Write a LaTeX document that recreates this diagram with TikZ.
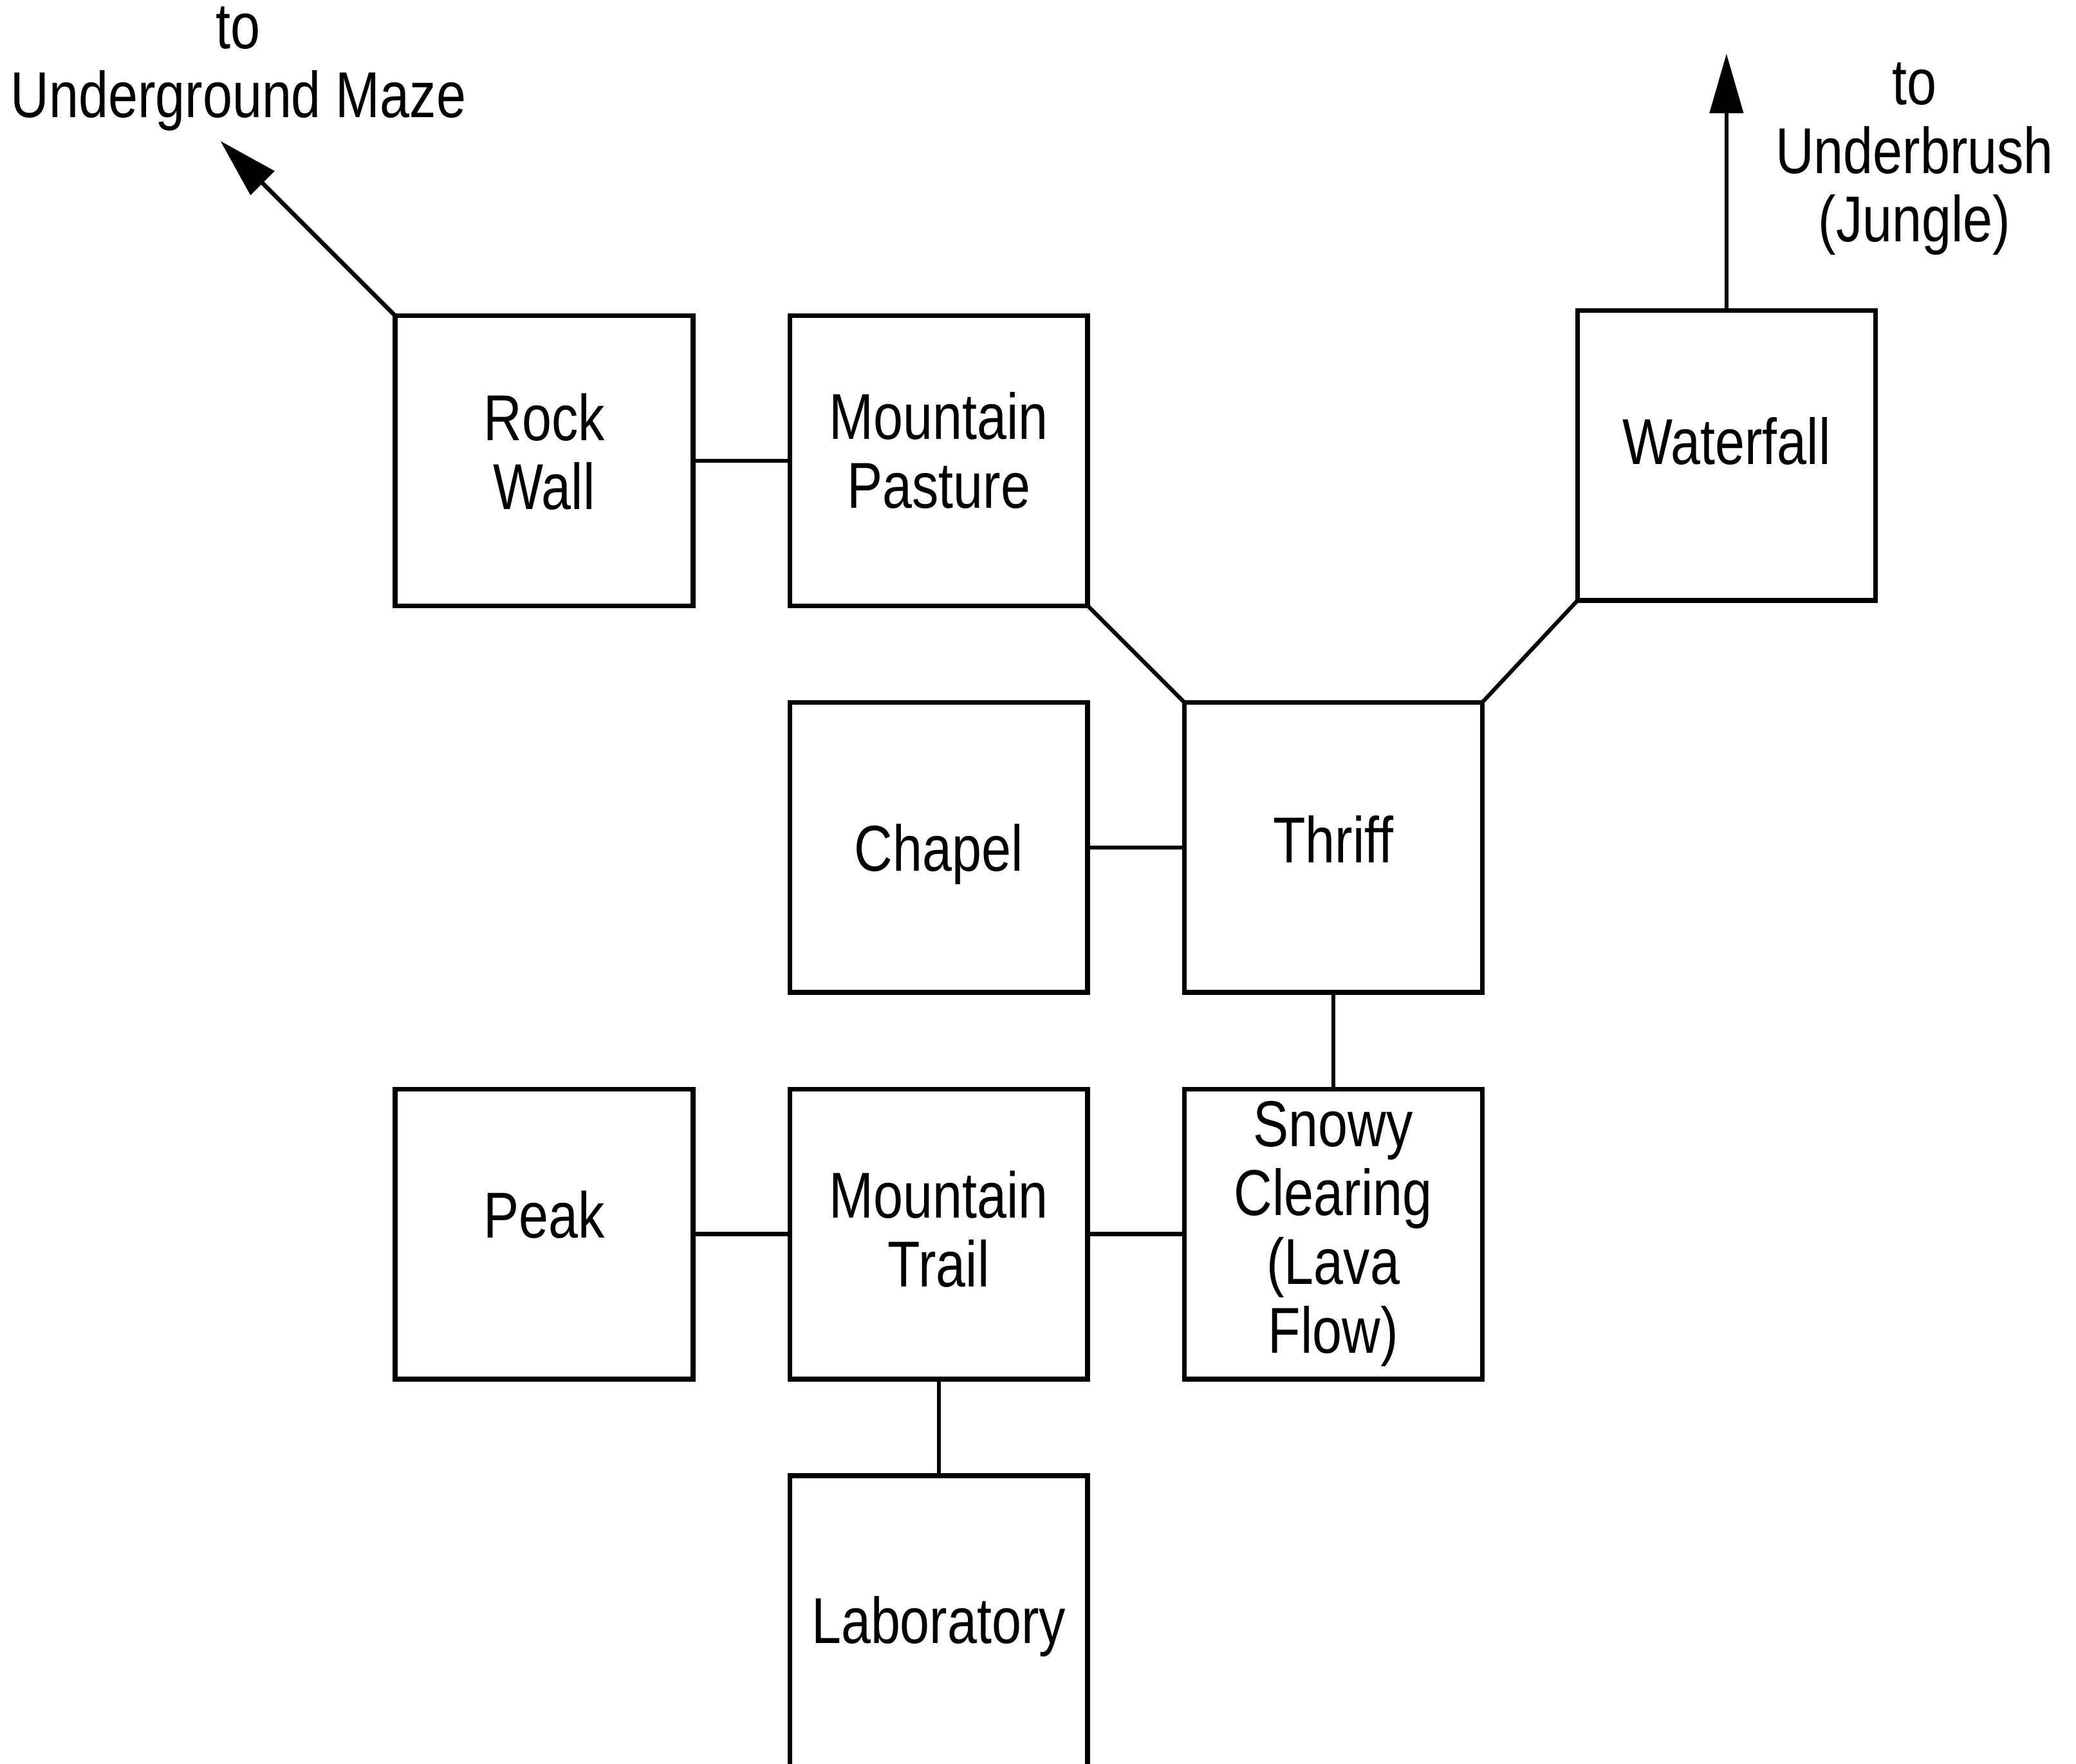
\documentclass[tikz,border=0pt]{standalone}
\usepackage{fontspec}
\setmainfont{Liberation Sans}[FakeStretch=0.82]
\usetikzlibrary{positioning,arrows.meta}

\begin{document}
\begin{tikzpicture}[
    x=1pt, y=-1pt,
    room/.style={
        rectangle, draw,
        minimum width=225pt, minimum height=219pt,
        align=center, inner sep=2pt, outer sep=0pt,
        line width=3.6pt, font=\fontsize{49}{52}\selectfont
    },
    exitlabel/.style={align=center, inner sep=0pt, font=\fontsize{49}{52}\selectfont},
    link/.style={line width=3pt},
    arrow/.style={-{Triangle[length=45pt, width=25pt]}, line width=3.2pt}
]
  \useasboundingbox (0,0) rectangle (1568,1332);

  % Rooms
  \node[room, text depth=14pt] (rockwall) at (411,348) {Rock\\Wall};
  \node[room, text depth=16pt, right=73pt of rockwall] (pasture) {Mountain\\Pasture};
  \node[room, text height=46pt, below=73pt of pasture] (chapel) {Chapel};
  \node[room, text depth=12pt, right=73pt of chapel] (thriff) {Thriff};
  \node[room, text depth=22pt, above right=77pt and 72pt of thriff] (waterfall) {Waterfall};
  \node[room, text depth=8pt, below=73pt of chapel] (trail) {Mountain\\Trail};
  \node[room, text depth=30pt, left=73pt of trail] (peak) {Peak};
  \node[room, right=73pt of trail] (snowy) {Snowy\\Clearing\\(Lava\\Flow)};
  \node[room, below=73pt of trail, minimum height=228pt] (lab) {Laboratory};

  % Exits
  \node[exitlabel] (maze) at (180,52) {to\\Underground Maze};
  \node[exitlabel] (jungle) at (1446,120) {to\\Underbrush\\(Jungle)};
  \coordinate (mazeEnd) at ([xshift=-132pt, yshift=132pt]rockwall.north west);
  \coordinate (jungleEnd) at ([yshift=194pt]waterfall.north);

  % Passages
  \draw[link] (rockwall) -- (pasture);
  \draw[link] (pasture.south east) -- (thriff.north west);
  \draw[link] (waterfall.south west) -- (thriff.north east);
  \draw[link] (chapel) -- (thriff);
  \draw[link] (thriff) -- (snowy);
  \draw[link] (peak) -- (trail);
  \draw[link] (trail) -- (snowy);
  \draw[link] (trail) -- (lab);

  \draw[arrow] (rockwall.north west) -- (mazeEnd);
  \draw[arrow] (waterfall.north) -- (jungleEnd);

\end{tikzpicture}
\end{document}
